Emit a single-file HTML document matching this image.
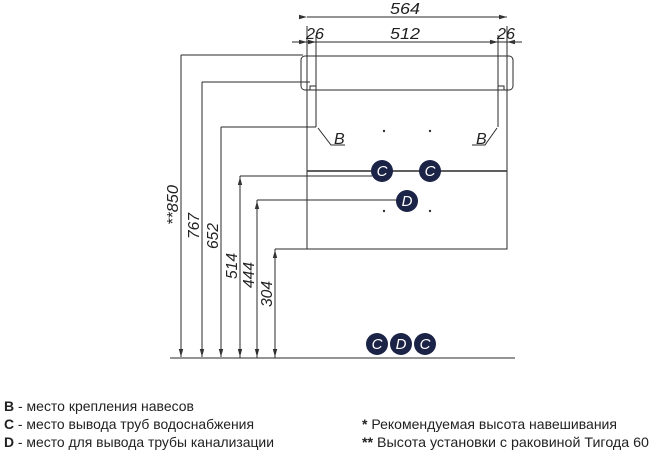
<!DOCTYPE html>
<html><head><meta charset="utf-8"><style>html,body{margin:0;padding:0;background:#fff}svg{display:block}</style></head>
<body>
<svg width="652" height="454" viewBox="0 0 652 454" xmlns="http://www.w3.org/2000/svg" font-family="Liberation Sans, sans-serif">
<defs>
<marker id="a" markerWidth="8" markerHeight="6" refX="8" refY="3" orient="auto" markerUnits="userSpaceOnUse"><path d="M0,0.8 L8,3 L0,5.2z" fill="#333"/></marker>
</defs>
<g stroke="#2a2a2a" stroke-width="1" fill="none">
<line x1="170" y1="358" x2="515" y2="358"/>
<line x1="181" y1="55" x2="181" y2="357" marker-end="url(#a)"/>
<line x1="202" y1="82" x2="202" y2="357" marker-end="url(#a)"/>
<line x1="221" y1="127" x2="221" y2="357" marker-end="url(#a)"/>
<line x1="240" y1="176" x2="240" y2="357" marker-end="url(#a)"/>
<line x1="257" y1="200" x2="257" y2="357" marker-end="url(#a)"/>
<line x1="275" y1="249" x2="275" y2="357" marker-end="url(#a)"/>
<line x1="240" y1="358" x2="240" y2="177" marker-end="url(#a)"/>
<line x1="257" y1="358" x2="257" y2="201" marker-end="url(#a)"/>
<line x1="275" y1="358" x2="275" y2="250" marker-end="url(#a)"/>
<line x1="181" y1="55" x2="303" y2="55"/>
<line x1="202" y1="82" x2="310" y2="82"/>
<line x1="221" y1="127" x2="316" y2="127"/>
<line x1="240" y1="176" x2="372" y2="176"/>
<line x1="257" y1="200" x2="397" y2="200"/>
<line x1="275" y1="249" x2="307" y2="249"/>
<rect x="301" y="56" width="212" height="34" rx="4"/>
<rect x="307" y="90" width="200" height="159"/>
<line x1="307" y1="171" x2="507" y2="171" stroke-width="1.5"/>
<line x1="307" y1="26" x2="307" y2="90"/>
<line x1="316" y1="35" x2="316" y2="127"/>
<line x1="498" y1="35" x2="498" y2="127"/>
<line x1="507" y1="26" x2="507" y2="90"/>
<rect x="310" y="86" width="6" height="4"/>
<rect x="498" y="86" width="6" height="4"/>
<line x1="307" y1="17" x2="507" y2="17" marker-start="url(#a)" marker-end="url(#a)"/>
<line x1="316" y1="42" x2="498" y2="42" marker-start="url(#a)" marker-end="url(#a)"/>
<line x1="292" y1="42" x2="307" y2="42" marker-end="url(#a)"/>
<line x1="522" y1="42" x2="507" y2="42" marker-end="url(#a)"/>
<line x1="307" y1="42" x2="316" y2="42"/>
<line x1="498" y1="42" x2="507" y2="42"/>
<polyline points="318,128 331,145 345,145"/>
<polyline points="497,128 485,145 472,145"/>
</g>
<g fill="#333">
<circle cx="384" cy="131" r="1.2"/><circle cx="430" cy="131" r="1.2"/>
<circle cx="384" cy="211" r="1.2"/><circle cx="430" cy="211" r="1.2"/>
</g>
<g fill="#1b2347">
<circle cx="382" cy="171" r="11"/><circle cx="430" cy="171" r="11"/>
<circle cx="407" cy="201" r="11"/>
<circle cx="377" cy="344" r="11"/><circle cx="401" cy="344" r="11"/><circle cx="425" cy="344" r="11"/>
</g>
<g fill="#fff" font-size="15" font-style="italic" text-anchor="middle">
<text x="382" y="176">C</text><text x="430" y="176">C</text>
<text x="407" y="206">D</text>
<text x="377" y="349">C</text><text x="401" y="349">D</text><text x="425" y="349">C</text>
</g>
<g fill="#222" font-size="16" font-style="italic">
<text x="334" y="144">B</text><text x="476" y="144">B</text>
<text x="405" y="14" text-anchor="middle" textLength="30" lengthAdjust="spacingAndGlyphs">564</text>
<text x="405" y="39" text-anchor="middle" textLength="30" lengthAdjust="spacingAndGlyphs">512</text>
<text x="315" y="39" text-anchor="middle" textLength="18" lengthAdjust="spacingAndGlyphs">26</text>
<text x="506" y="39" text-anchor="middle" textLength="18" lengthAdjust="spacingAndGlyphs">26</text>
<text transform="translate(178,205) rotate(-90)" text-anchor="middle" textLength="40" lengthAdjust="spacingAndGlyphs">**850</text>
<text transform="translate(199,226) rotate(-90)" text-anchor="middle" textLength="26" lengthAdjust="spacingAndGlyphs">767</text>
<text transform="translate(218,236) rotate(-90)" text-anchor="middle" textLength="26" lengthAdjust="spacingAndGlyphs">652</text>
<text transform="translate(237,266) rotate(-90)" text-anchor="middle" textLength="26" lengthAdjust="spacingAndGlyphs">514</text>
<text transform="translate(254,275) rotate(-90)" text-anchor="middle" textLength="26" lengthAdjust="spacingAndGlyphs">444</text>
<text transform="translate(272,294) rotate(-90)" text-anchor="middle" textLength="26" lengthAdjust="spacingAndGlyphs">304</text>
</g>
<g fill="#222" font-size="14">
<text x="4" y="411" textLength="190" lengthAdjust="spacingAndGlyphs"><tspan font-weight="bold">B</tspan> - место крепления навесов</text>
<text x="4" y="429" textLength="250" lengthAdjust="spacingAndGlyphs"><tspan font-weight="bold">C</tspan> - место вывода труб водоснабжения</text>
<text x="4" y="447" textLength="270" lengthAdjust="spacingAndGlyphs"><tspan font-weight="bold">D</tspan> - место для вывода трубы канализации</text>
<text x="362" y="429" textLength="255" lengthAdjust="spacingAndGlyphs"><tspan font-weight="bold">*</tspan> Рекомендуемая высота навешивания</text>
<text x="362" y="447" textLength="287" lengthAdjust="spacingAndGlyphs"><tspan font-weight="bold">**</tspan> Высота установки с раковиной Тигода 60</text>
</g>
</svg>
</body></html>
